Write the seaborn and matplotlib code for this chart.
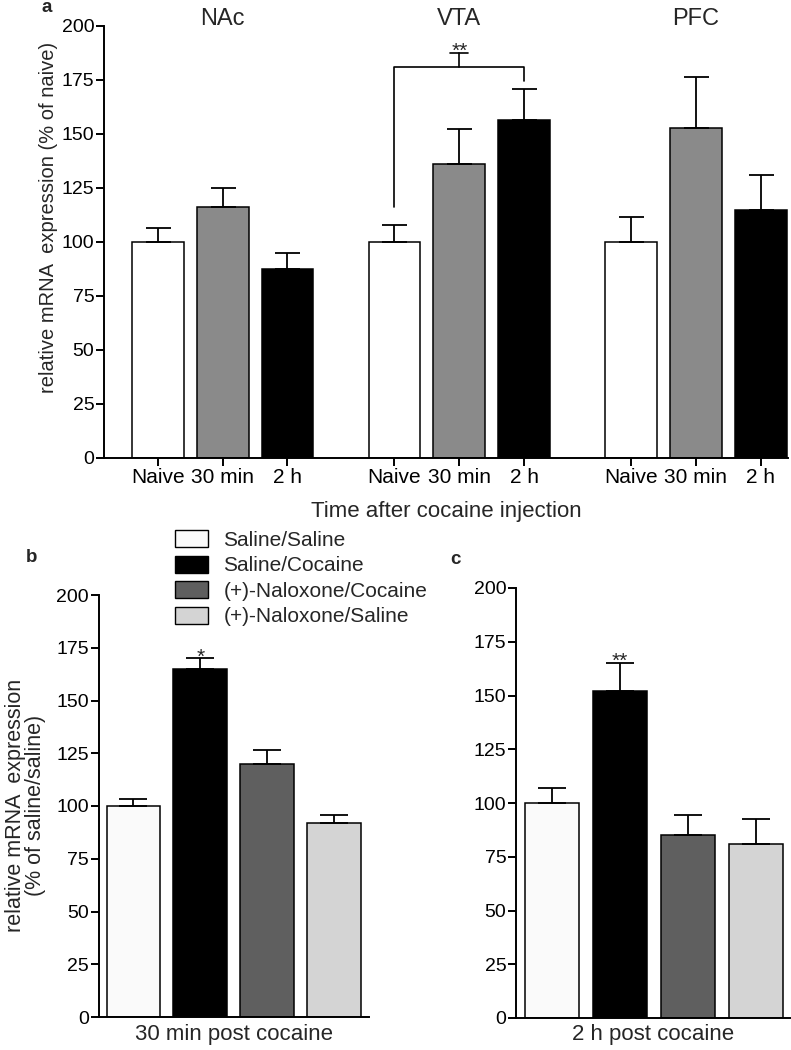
import numpy as np
import pandas as pd
import matplotlib
matplotlib.use("Agg")
import matplotlib.pyplot as plt
from matplotlib.patches import Patch
import seaborn as sns

# ---- data ----
regions = ['NAc', 'VTA', 'PFC']
times = ['Naive', '30 min', '2 h']
a_means = [[100, 116, 87.5],
           [100, 136, 156.5],
           [100, 153, 115]]
a_sems = [[6.4, 9.1, 7.3],
          [8.1, 16.3, 14.5],
          [11.4, 23.5, 16.1]]

treatments = ['Saline/Saline', 'Saline/Cocaine',
              '(+)-Naloxone/Cocaine', '(+)-Naloxone/Saline']
b_means = [100, 165, 120, 92]
b_sems = [3.2, 5.1, 6.4, 3.9]
c_means = [100, 152, 85, 81]
c_sems = [7.2, 13.2, 9.6, 11.4]

# ---- style ----
sns.set_theme(style="ticks")
plt.rcParams['font.family'] = ['Liberation Sans', 'DejaVu Sans']
plt.rcParams['axes.edgecolor'] = 'black'
plt.rcParams['axes.linewidth'] = 1.4
plt.rcParams['xtick.color'] = 'black'
plt.rcParams['ytick.color'] = 'black'
plt.rcParams['xtick.major.width'] = 1.4
plt.rcParams['ytick.major.width'] = 1.4
plt.rcParams['xtick.major.size'] = 5.5
plt.rcParams['ytick.major.size'] = 5.5
plt.rcParams['xtick.major.pad'] = 1.5
plt.rcParams['ytick.major.pad'] = 1.5

time_colors = {'Naive': '#ffffff', '30 min': '#8a8a8a', '2 h': '#000000'}
treat_colors = dict(zip(treatments, ['#fafafa', '#000000', '#5f5f5f', '#d4d4d4']))

W, H = 791, 1050
fig = plt.figure(figsize=(W / 100, H / 100), dpi=100)


def px_axes(left, top, right, bottom):
    return fig.add_axes([left / W, 1 - bottom / H, (right - left) / W, (bottom - top) / H])


YT = 14      # y tick labels
XT = 15      # x tick labels
LBL = 16     # x axis labels
GROUP_GAP = 3.65

# ---- panel a ----
ax = px_axes(104, 26, 788, 458)
rows = []
for g, reg in enumerate(regions):
    for j, t in enumerate(times):
        rows.append({'pos': g * GROUP_GAP + j, 'region': reg, 'time': t,
                     'mean': a_means[g][j], 'sem': a_sems[g][j]})
dfa = pd.DataFrame(rows)
sns.barplot(data=dfa, x='pos', y='mean', hue='time', palette=time_colors,
            native_scale=True, dodge=False, width=0.8, errorbar=None,
            edgecolor='black', linewidth=1.1, legend=False, ax=ax)
ax.errorbar(dfa['pos'], dfa['mean'], yerr=[np.zeros(len(dfa)), dfa['sem']],
            fmt='none', ecolor='black', elinewidth=1.3, capsize=9, capthick=1.3)
ax.set_xlim(-0.83, 2 * GROUP_GAP + 2.42)
ax.set_ylim(0, 200)
ax.set_yticks(range(0, 201, 25))
ax.set_xticks(dfa['pos'])
ax.set_xticklabels(dfa['time'], fontsize=XT)
ax.tick_params(axis='y', labelsize=YT)
ax.set_xlabel('Time after cocaine injection', fontsize=LBL)
ax.xaxis.set_label_coords(0.5, -0.099)
ax.set_ylabel('relative mRNA  expression (% of naive)', fontsize=14.5)
ax.yaxis.set_label_coords(-0.067, 0.556)
for g, reg in enumerate(regions):
    ax.text(g * GROUP_GAP + 1, 200.5, reg, ha='center', va='baseline',
            fontsize=17, clip_on=False)
sns.despine(ax=ax)

# significance bracket VTA naive vs 2 h
x0, x1, xm = GROUP_GAP, GROUP_GAP + 2, GROUP_GAP + 1
ax.plot([x0, x0, x1, x1], [116, 181, 181, 174.5], color='black', lw=1.2)
ax.plot([xm, xm], [181, 187.5], color='black', lw=1.2)
ax.plot([xm - 0.14, xm + 0.14], [187.5, 187.5], color='black', lw=1.2)
ax.text(xm, 185.5, '**', ha='center', va='baseline', fontsize=15)


# ---- panels b and c ----
def treat_panel(ax, means, sems, xlabel, star, star_y, xlim, label_y):
    df = pd.DataFrame({'treatment': treatments, 'mean': means, 'sem': sems})
    sns.barplot(data=df, x='treatment', y='mean', hue='treatment',
                palette=treat_colors, dodge=False, width=0.8, errorbar=None,
                edgecolor='black', linewidth=1.1, legend=False, ax=ax)
    pos = np.arange(len(df))
    ax.errorbar(pos, df['mean'], yerr=[np.zeros(len(df)), df['sem']],
                fmt='none', ecolor='black', elinewidth=1.3, capsize=10, capthick=1.3)
    ax.set_xlim(*xlim)
    ax.set_ylim(0, 200)
    ax.set_yticks(range(0, 201, 25))
    ax.tick_params(axis='y', labelsize=YT)
    ax.tick_params(axis='x', length=0, labelbottom=False)
    ax.set_xlabel(xlabel, fontsize=LBL)
    ax.xaxis.set_label_coords(0.5, label_y)
    ax.text(1, star_y, star, ha='center', va='baseline', fontsize=15)
    sns.despine(ax=ax)


axb = px_axes(98.5, 595, 369, 1017)
treat_panel(axb, b_means, b_sems, '30 min post cocaine', '*', 168, (-0.52, 3.52), -0.017)
axb.set_ylabel('relative mRNA  expression\n(% of saline/saline)', fontsize=15.5,
               linespacing=0.95)
axb.yaxis.set_label_coords(-0.195, 0.502)

axc = px_axes(516, 588, 790, 1018)
treat_panel(axc, c_means, c_sems, '2 h post cocaine', '**', 163.5, (-0.53, 3.5), -0.014)
axc.set_ylabel('')

# legend
handles = [Patch(facecolor=treat_colors[t], edgecolor='black', linewidth=1.0, label=t)
           for t in treatments]
fig.legend(handles=handles, loc='upper left', bbox_to_anchor=(175 / W, 1 - 530 / H),
           frameon=False, fontsize=15, handlelength=1.6, handleheight=0.88,
           handletextpad=0.72, labelspacing=0.28, borderpad=0, borderaxespad=0)

# panel letters
fig.text(47 / W, 1 - 8 / H, 'a', fontsize=13.5, fontweight='bold', ha='center', va='center')
fig.text(32 / W, 1 - 557 / H, 'b', fontsize=13.5, fontweight='bold', ha='center', va='center')
fig.text(455 / W, 1 - 560 / H, 'c', fontsize=13.5, fontweight='bold', ha='center', va='center')

fig.savefig('out.png', dpi=100)
